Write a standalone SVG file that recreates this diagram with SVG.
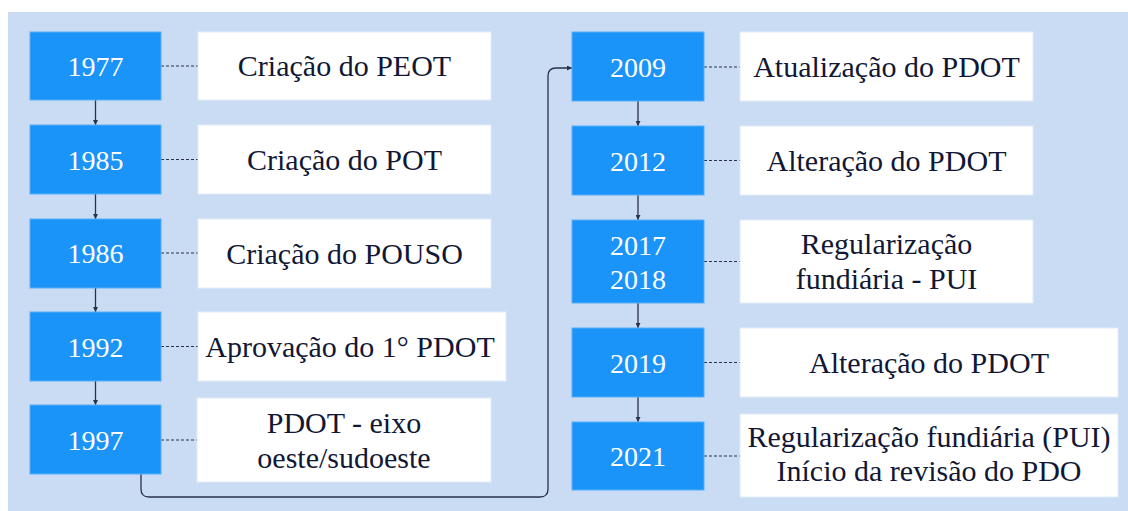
<svg xmlns="http://www.w3.org/2000/svg" width="1128" height="511" viewBox="0 0 1128 511" font-family="Liberation Serif, DejaVu Serif, serif">
  <defs>
    <style>
      .year { fill: #1a94f9; stroke: #5aaef6; stroke-width: 1; }
      .desc { fill: #ffffff; stroke: #e2ecf8; stroke-width: 1; }
      .yt { font-size: 28px; fill: #ffffff; text-anchor: middle; }
      .dt { font-size: 30px; fill: #111735; text-anchor: middle; }
      .dash { stroke: #2a3148; stroke-width: 1; stroke-dasharray: 3 2; fill: none; }
      .arr { stroke: #2a3148; stroke-width: 1.3; fill: none; marker-end: url(#ah); }
    </style>
    <marker id="ah" viewBox="0 0 10 10" refX="10" refY="5" markerWidth="5" markerHeight="5" markerUnits="userSpaceOnUse" orient="auto">
      <path d="M0,0 L10,5 L0,10 z" fill="#2a3148"/>
    </marker>
  </defs>

  <rect x="8" y="12" width="1120" height="499" fill="#c9dcf4"/>

  <g id="connectors">
    <line class="dash" x1="161" y1="66" x2="198" y2="66"/>
    <line class="dash" x1="161" y1="159.5" x2="198" y2="159.5"/>
    <line class="dash" x1="161" y1="253" x2="198" y2="253"/>
    <line class="dash" x1="161" y1="346.5" x2="198" y2="346.5"/>
    <line class="dash" x1="161" y1="440" x2="197" y2="440"/>
    <line class="dash" x1="704" y1="67" x2="740" y2="67"/>
    <line class="dash" x1="704" y1="160.5" x2="740" y2="160.5"/>
    <line class="dash" x1="704" y1="261.5" x2="740" y2="261.5"/>
    <line class="dash" x1="704" y1="362.5" x2="740" y2="362.5"/>
    <line class="dash" x1="704" y1="456" x2="740" y2="456"/>

    <line class="arr" x1="95.5" y1="100" x2="95.5" y2="125"/>
    <line class="arr" x1="95.5" y1="194" x2="95.5" y2="219"/>
    <line class="arr" x1="95.5" y1="288" x2="95.5" y2="312"/>
    <line class="arr" x1="95.5" y1="381" x2="95.5" y2="405"/>

    <line class="arr" x1="638" y1="101" x2="638" y2="126"/>
    <line class="arr" x1="638" y1="195" x2="638" y2="220"/>
    <line class="arr" x1="638" y1="303" x2="638" y2="328"/>
    <line class="arr" x1="638" y1="397" x2="638" y2="422"/>

    <path class="arr" d="M141,474 L141,489 Q141,497 149,497 L540,497 Q548,497 548,489 L548,76 Q548,68 556,68 L572,68"/>
  </g>

  <g id="n1977">
    <rect class="year" x="30" y="32" width="131" height="68"/>
    <text class="yt" x="95.5" y="76">1977</text>
  </g>
  <g id="d1977">
    <rect class="desc" x="198" y="32" width="293" height="68"/>
    <text class="dt" x="344.5" y="76">Criação do PEOT</text>
  </g>

  <g id="n1985">
    <rect class="year" x="30" y="125" width="131" height="69"/>
    <text class="yt" x="95.5" y="169.5">1985</text>
  </g>
  <g id="d1985">
    <rect class="desc" x="198" y="125" width="293" height="69"/>
    <text class="dt" x="344.5" y="170">Criação do POT</text>
  </g>

  <g id="n1986">
    <rect class="year" x="30" y="219" width="131" height="69"/>
    <text class="yt" x="95.5" y="263">1986</text>
  </g>
  <g id="d1986">
    <rect class="desc" x="198" y="219" width="293" height="69"/>
    <text class="dt" x="344.5" y="263.5">Criação do POUSO</text>
  </g>

  <g id="n1992">
    <rect class="year" x="30" y="312" width="131" height="69"/>
    <text class="yt" x="95.5" y="356.5">1992</text>
  </g>
  <g id="d1992">
    <rect class="desc" x="198" y="312" width="308" height="69"/>
    <text class="dt" x="350" y="357">Aprovação do 1° PDOT</text>
  </g>

  <g id="n1997">
    <rect class="year" x="30" y="405" width="131" height="69"/>
    <text class="yt" x="95.5" y="449.5">1997</text>
  </g>
  <g id="d1997">
    <rect class="desc" x="197" y="398" width="294" height="84"/>
    <text class="dt" x="344" y="432.5">PDOT - eixo</text>
    <text class="dt" x="344" y="467.5">oeste/sudoeste</text>
  </g>

  <g id="n2009">
    <rect class="year" x="572" y="32" width="132" height="69"/>
    <text class="yt" x="638" y="76.5">2009</text>
  </g>
  <g id="d2009">
    <rect class="desc" x="740" y="32" width="293" height="69"/>
    <text class="dt" x="886.5" y="77">Atualização do PDOT</text>
  </g>

  <g id="n2012">
    <rect class="year" x="572" y="126" width="132" height="69"/>
    <text class="yt" x="638" y="170.5">2012</text>
  </g>
  <g id="d2012">
    <rect class="desc" x="740" y="126" width="293" height="69"/>
    <text class="dt" x="886.5" y="171">Alteração do PDOT</text>
  </g>

  <g id="n2017">
    <rect class="year" x="572" y="220" width="132" height="83"/>
    <text class="yt" x="638" y="254.5">2017</text>
    <text class="yt" x="638" y="288.5">2018</text>
  </g>
  <g id="d2017">
    <rect class="desc" x="740" y="220" width="293" height="83"/>
    <text class="dt" x="886.5" y="254">Regularização</text>
    <text class="dt" x="886.5" y="289">fundiária - PUI</text>
  </g>

  <g id="n2019">
    <rect class="year" x="572" y="328" width="132" height="69"/>
    <text class="yt" x="638" y="372.5">2019</text>
  </g>
  <g id="d2019">
    <rect class="desc" x="740" y="328" width="378" height="69"/>
    <text class="dt" x="929" y="373">Alteração do PDOT</text>
  </g>

  <g id="n2021">
    <rect class="year" x="572" y="422" width="132" height="68"/>
    <text class="yt" x="638" y="466">2021</text>
  </g>
  <g id="d2021">
    <rect class="desc" x="740" y="414" width="378" height="83"/>
    <text class="dt" x="929" y="447">Regularização fundiária (PUI)</text>
    <text class="dt" x="929" y="481">Início da revisão do PDO</text>
  </g>
</svg>
